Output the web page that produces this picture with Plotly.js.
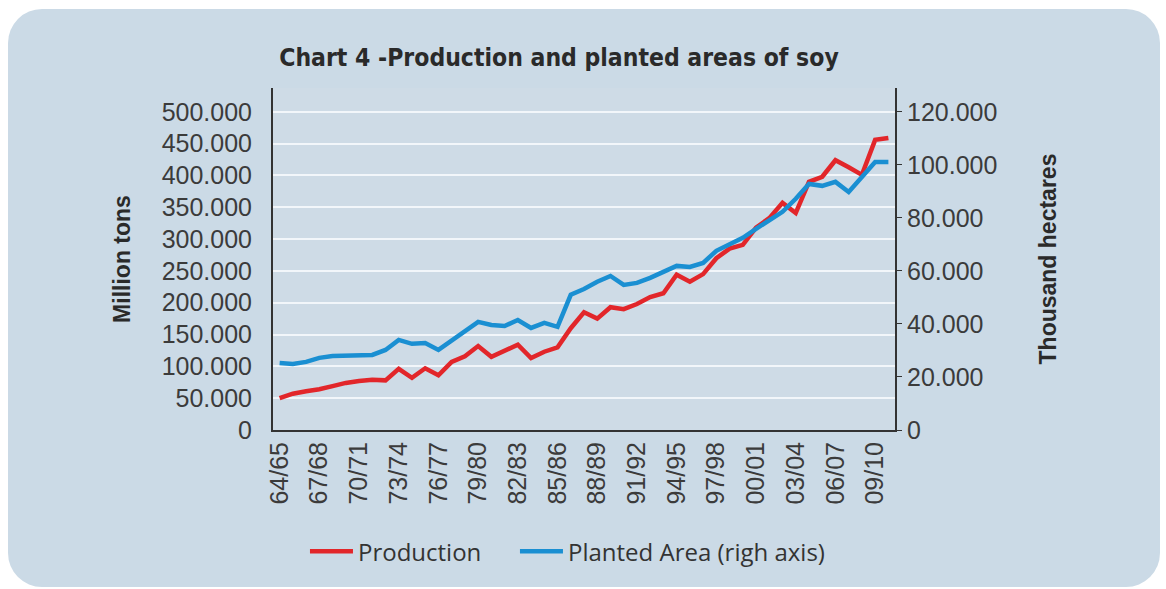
<!DOCTYPE html>
<html>
<head>
<meta charset="utf-8">
<script src="https://cdn.plot.ly/plotly-3.0.1.min.js"></script>
<style>
  html, body { margin: 0; padding: 0; background: #ffffff; }
  #wrap { position: relative; width: 1166px; height: 589px; overflow: hidden; }
  #panel { position: absolute; left: 8px; top: 9px; width: 1152px; height: 578px;
           background: #cbdae6; border-radius: 34px; }
  #chart { position: absolute; left: 0; top: 0; width: 1166px; height: 589px; }
</style>
</head>
<body>
<div id="wrap">
  <div id="panel"></div>
  <div id="chart"></div>
</div>
<script>
const seasons = ["64/65","65/66","66/67","67/68","68/69","69/70","70/71","71/72","72/73","73/74",
  "74/75","75/76","76/77","77/78","78/79","79/80","80/81","81/82","82/83","83/84",
  "84/85","85/86","86/87","87/88","88/89","89/90","90/91","91/92","92/93","93/94",
  "94/95","95/96","96/97","97/98","98/99","99/00","00/01","01/02","02/03","03/04",
  "04/05","05/06","06/07","07/08","08/09","09/10","10/11"];

// Production (left axis, million tons)
const production = [50,57,61,64,69,74,77,79,78,96,
  82,97,86,107,116,132,115,124,134,113,
  123,130,160,185,175,193,190,198,209,215,
  244,233,245,270,285,291,318,333,357,341,
  390,398,424,413,401,456,459];

// Planted area (right axis, thousand hectares)
const plantedArea = [25.3,24.9,25.7,27.2,27.9,27.9,27.9,28.3,30.2,34.0,
  32.5,32.8,30.2,33.6,37.0,40.8,39.6,39.2,41.5,38.5,
  40.4,38.9,51.0,53.2,55.9,58.1,54.7,55.5,57.4,59.6,
  61.9,61.5,63.0,67.6,70.2,72.5,75.9,78.9,82.3,87.2,
  92.8,92.1,93.6,89.8,95.5,101.1,101.1];

const xTickVals = ["64/65","67/68","70/71","73/74","76/77","79/80","82/83","85/86",
  "88/89","91/92","94/95","97/98","00/01","03/04","06/07","09/10"];
const leftTickVals = [0,50,100,150,200,250,300,350,400,450,500];
const leftTickText = ["0","50.000","100.000","150.000","200.000","250.000","300.000","350.000","400.000","450.000","500.000"];
const rightTickVals = [0,20,40,60,80,100,120];
const rightTickText = ["0","20.000","40.000","60.000","80.000","100.000","120.000"];

const tickFont = {family: "Liberation Sans, Arial, sans-serif", size: 25, color: "#3b3b3b"};
const axTitleFont = {family: "Liberation Sans, Arial, sans-serif", size: 23, color: "#2a2a2a", weight: "bold"};
const legendFont = {family: "Open Sans, sans-serif", size: 24, color: "#333"};

const traces = [
  {x: seasons, y: production, type: "scatter", mode: "lines", name: "Production",
   line: {color: "#e2262a", width: 4.5}, yaxis: "y", legend: "legend"},
  {x: seasons, y: plantedArea, type: "scatter", mode: "lines", name: "Planted Area (righ axis)",
   line: {color: "#1a8fd2", width: 4.5}, yaxis: "y2", legend: "legend2"}
];

const layout = {
  width: 1166, height: 589,
  paper_bgcolor: "rgba(0,0,0,0)",
  plot_bgcolor: "#cedbe6",
  margin: {l: 273, r: 271, t: 88, b: 159},
  title: {text: "Chart 4 -Production and planted areas of soy",
          font: {family: "Liberation Sans Narrow, DejaVu Sans Condensed, Arial Narrow, sans-serif", size: 24.5, color: "#2a2a2a", weight: "bold"},
          x: 559/1166, xanchor: "center", xref: "container",
          y: 1 - 57/589, yanchor: "middle", yref: "container"},
  xaxis: {type: "category", range: [-0.5, 46.5], tickmode: "array", tickvals: xTickVals,
          tickangle: -90, tickfont: tickFont, showgrid: false,
          showline: true, linecolor: "#333", linewidth: 2, ticks: "", zeroline: false},
  yaxis: {range: [0, 537.5], tickmode: "array", tickvals: leftTickVals, ticktext: leftTickText,
          tickfont: tickFont, showgrid: true, gridcolor: "#f2f6fa", gridwidth: 2,
          showline: true, linecolor: "#333", linewidth: 2, zeroline: false, ticks: "",
          ticklabelstandoff: 14,
          title: {text: "Million tons", font: axTitleFont, standoff: 25}},
  yaxis2: {range: [0, 129], overlaying: "y", side: "right", tickmode: "array",
          tickvals: rightTickVals, ticktext: rightTickText, tickfont: tickFont,
          showgrid: false, showline: true, linecolor: "#333", linewidth: 2, zeroline: false,
          ticks: "outside", ticklen: 5, tickcolor: "#333",
          title: {text: "Thousand hectares", font: axTitleFont, standoff: 44}},
  showlegend: true,
  legend: {orientation: "h", x: 0.0514, xanchor: "left", y: -0.29, yanchor: "top",
           font: legendFont, bgcolor: "rgba(0,0,0,0)", itemwidth: 43},
  legend2: {orientation: "h", x: 0.389, xanchor: "left", y: -0.29, yanchor: "top",
           font: legendFont, bgcolor: "rgba(0,0,0,0)", itemwidth: 43}
};

Plotly.newPlot("chart", traces, layout, {displayModeBar: false});
</script>
</body>
</html>
